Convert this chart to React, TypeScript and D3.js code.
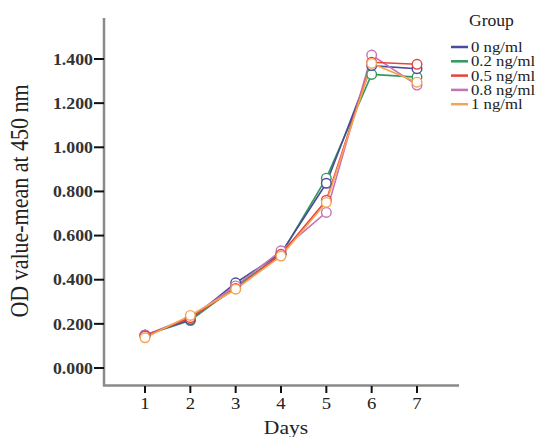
import React from "react";
import * as d3 from "d3";

const days = [1, 2, 3, 4, 5, 6, 7];
const groups = ["0 ng/ml", "0.2 ng/ml", "0.5 ng/ml", "0.8 ng/ml", "1 ng/ml"];
const colors = ["#4b4b9b", "#2f9a5c", "#e8433b", "#c673b3", "#f5a354"];
const s0 = [0.150, 0.220, 0.386, 0.520, 0.837, 1.370, 1.356];
const s02 = [0.148, 0.215, 0.368, 0.515, 0.860, 1.330, 1.318];
const s05 = [0.145, 0.228, 0.360, 0.515, 0.760, 1.385, 1.376];
const s08 = [0.148, 0.230, 0.372, 0.531, 0.705, 1.418, 1.282];
const s1 = [0.137, 0.238, 0.357, 0.507, 0.750, 1.380, 1.295];
const series = [s0, s02, s05, s08, s1];
const yTicks = [0, 0.2, 0.4, 0.6, 0.8, 1.0, 1.2, 1.4];

export default function App() {
  const x = d3.scaleLinear().domain([1, 7]).range([145, 417]);
  const y = d3.scaleLinear().domain([0, 1.4]).range([368, 59]);
  const line = d3.line<number>().x((_, i) => x(days[i])).y((d) => y(d));
  const font = "'Liberation Serif', 'Times New Roman', serif";
  const drawOrder = [1, 0, 3, 2, 4];
  return (
    <svg width={542} height={437} style={{ position: "absolute", left: 0, top: 0, background: "#fff" }} fontFamily={font}>
      {/* axes */}
      <line x1={104} x2={104} y1={18} y2={386} stroke="#8a8a8a" strokeWidth={2.5} />
      <line x1={103} x2={459} y1={385.5} y2={385.5} stroke="#8a8a8a" strokeWidth={2.5} />
      {yTicks.map((t) => (
        <g key={t}>
          <line x1={94} x2={104} y1={y(t)} y2={y(t)} stroke="#111" strokeWidth={2} />
          <text transform={`translate(93,${y(t)}) scale(1.08,1)`} dy="0.35em" textAnchor="end" fontSize={16.5} fontWeight="bold" fill="#333">
            {d3.format(".3f")(t)}
          </text>
        </g>
      ))}
      {days.map((d) => (
        <g key={d}>
          <line x1={x(d)} x2={x(d)} y1={386} y2={393} stroke="#111" strokeWidth={2} />
          <text transform={`translate(${x(d)},409) scale(1.1,1)`} textAnchor="middle" fontSize={17} fill="#222">{d}</text>
        </g>
      ))}
      <text transform="translate(286,434) scale(1.2,1)" textAnchor="middle" fontSize={18} fill="#222">Days</text>
      <text transform="translate(28,201) rotate(-90) scale(1,1.15)" textAnchor="middle" fontSize={22} fill="#222">
        OD value-mean at 450 nm
      </text>
      {/* series */}
      {drawOrder.map((gi) => (
        <path key={"l" + gi} d={line(series[gi]) || ""} fill="none" stroke={colors[gi]} strokeWidth={1.6} />
      ))}
      {drawOrder.map((gi) =>
        series[gi].map((v, i) => (
          <circle key={"c" + gi + "-" + i} cx={x(days[i])} cy={y(v)} r={4.8} fill="#fff" stroke={colors[gi]} strokeWidth={1.4} />
        ))
      )}
      {/* legend */}
      <text transform="translate(469,26) scale(1.1,1)" fontSize={16} fill="#222">Group</text>
      {groups.map((g, i) => (
        <g key={g}>
          <line x1={451} x2={468} y1={47 + i * 14.3} y2={47 + i * 14.3} stroke={colors[i]} strokeWidth={2.5} />
          <text transform={`translate(471,${47 + i * 14.3}) scale(1.08,1)`} dy="0.33em" fontSize={15.5} fill="#222">{g}</text>
        </g>
      ))}
    </svg>
  );
}
